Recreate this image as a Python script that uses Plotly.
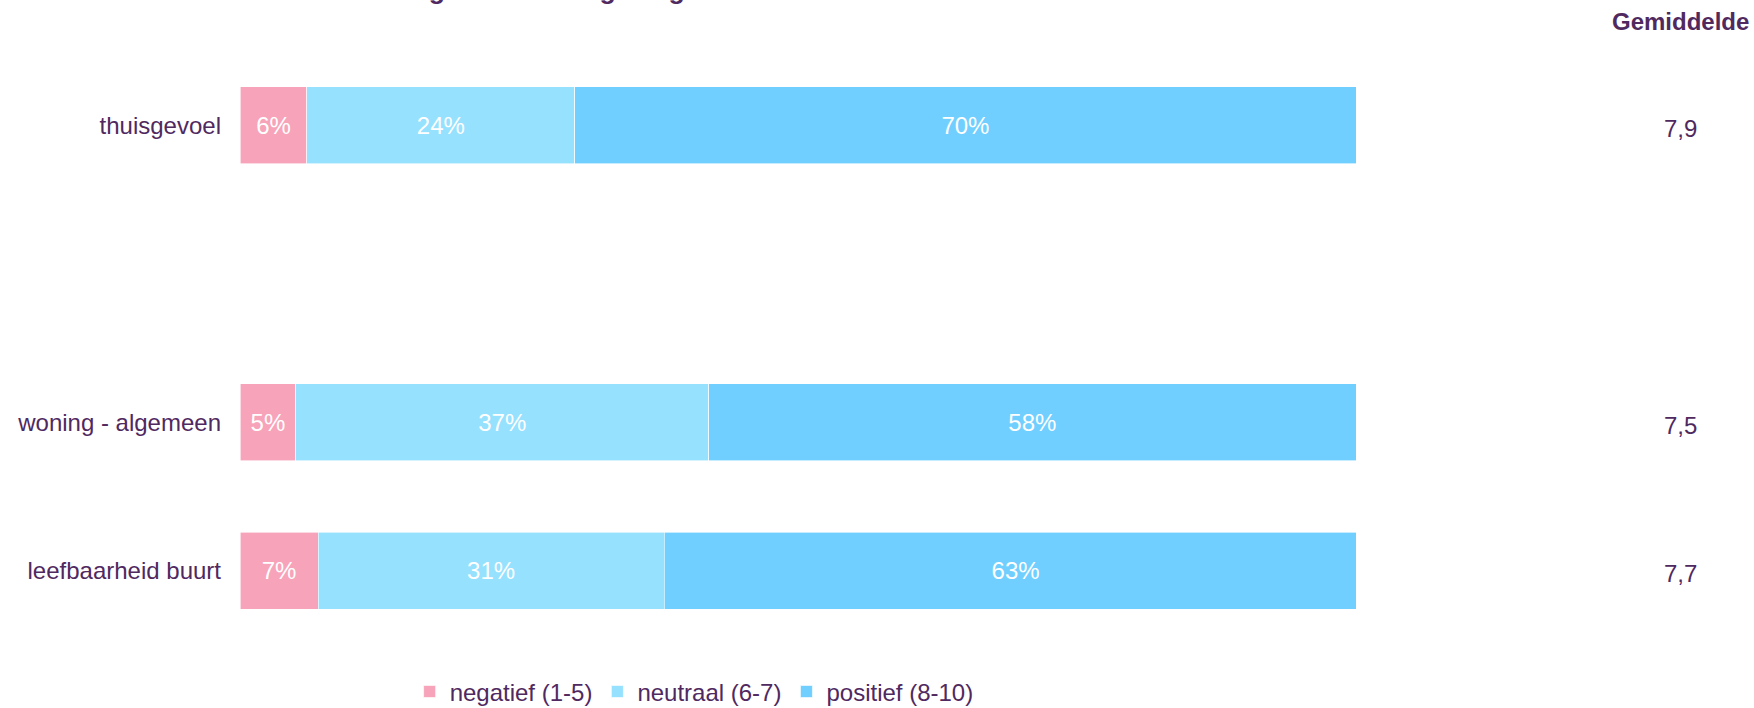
import plotly.graph_objects as go

# Survey items (a blank slot separates the first item from the rest)
categories = ["thuisgevoel", " ", "woning - algemeen", "leefbaarheid buurt"]
negatief = [6, None, 5, 7]
neutraal = [24, None, 37, 31]
positief = [70, None, 58, 63]
gemiddelde = ["7,9", None, "7,5", "7,7"]

series_names = ["negatief (1-5)", "neutraal (6-7)", "positief (8-10)"]
series_values = [negatief, neutraal, positief]
series_colors = ["#F7A3BA", "#96E1FE", "#70CFFF"]

TEXT = "#50295F"
FONT = "Liberation Sans, Arial, sans-serif"

fig = go.Figure()
for name, vals, col in zip(series_names, series_values, series_colors):
    fig.add_trace(go.Bar(
        y=categories,
        x=vals,
        name=name,
        orientation="h",
        marker=dict(color=col, line=dict(color="white", width=0.6)),
        text=[f"{v}%" if v is not None else "" for v in vals],
        textposition="inside",
        insidetextanchor="middle",
        textangle=0,
        constraintext="none",
        textfont=dict(color="white", size=24, family=FONT),
        hoverinfo="skip",
    ))

# Average-score column on the right
annotations = [dict(
    text="<b>Gemiddelde</b>", xref="paper", yref="paper",
    x=1.291, y=1.049, xanchor="center", yanchor="middle", showarrow=False,
    font=dict(size=24, color=TEXT, family=FONT),
)]
for cat, g in zip(categories, gemiddelde):
    if g is None:
        continue
    annotations.append(dict(
        text=g, xref="paper", yref="y", x=1.291, y=cat,
        xanchor="center", yanchor="middle", yshift=-3, showarrow=False,
        font=dict(size=24, color=TEXT, family=FONT),
    ))

# Chart title (sits at the very top edge)
annotations.append(dict(
    text="<b>Tevredenheid bewoners over woning en woonomgeving</b>",
    xref="paper", yref="paper", x=-0.235, y=1.1027,
    xanchor="left", yanchor="middle", showarrow=False,
    font=dict(size=26.5, color=TEXT, family=FONT),
))

fig.update_layout(
    width=1754, height=708,
    margin=dict(l=240, r=398, t=51, b=63, autoexpand=False),
    barmode="stack",
    bargap=0.48,
    plot_bgcolor="white",
    paper_bgcolor="white",
    font=dict(family=FONT, color=TEXT, size=24),
    showlegend=True,
    legend=dict(
        orientation="h", x=0.152, xanchor="left", y=-0.079, yanchor="middle",
        font=dict(size=24, color=TEXT, family=FONT),
        itemclick=False, itemdoubleclick=False, traceorder="normal",
    ),
    annotations=annotations,
)
fig.update_xaxes(range=[0, 100], visible=False, fixedrange=True)
fig.update_yaxes(
    type="category", categoryorder="array", categoryarray=categories,
    autorange="reversed", showgrid=False, zeroline=False, showline=False,
    ticks="", ticklabelstandoff=18, tickfont=dict(size=24, color=TEXT, family=FONT),
    fixedrange=True,
)

fig.write_html("out.html", config={"displayModeBar": False})
